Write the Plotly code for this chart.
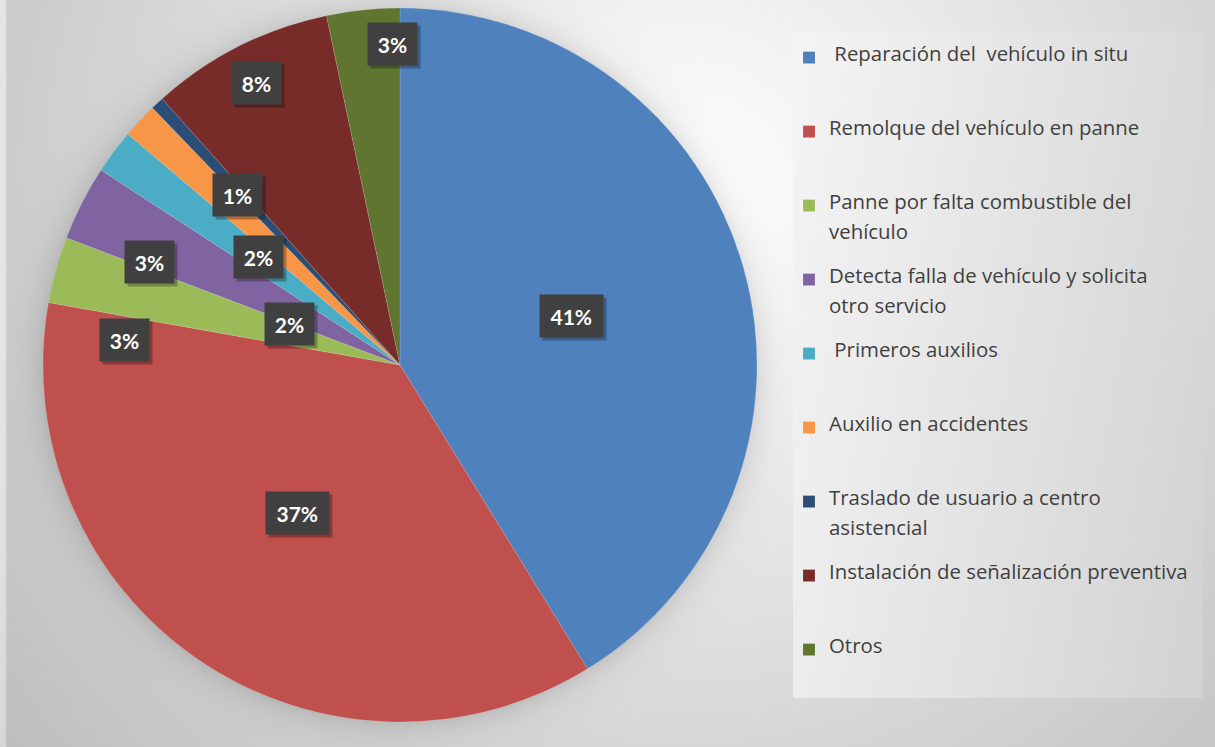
import base64
import struct
import zlib

import numpy as np
import plotly.graph_objects as go

# ---------------- data ----------------
categories = [
    "\u00a0Reparación del\u00a0 vehículo in situ",
    "Remolque del vehículo en panne",
    "Panne por falta combustible del<br>vehículo",
    "Detecta falla de vehículo y solicita<br>otro servicio",
    "\u00a0Primeros auxilios",
    "Auxilio en accidentes",
    "Traslado de usuario a centro<br>asistencial",
    "Instalación de señalización preventiva",
    "Otros",
]
values = [41.2, 36.6, 3.0, 3.4, 2.0, 1.6, 0.6, 8.3, 3.3]

# ---------------- style ----------------
colors = ["#4F81BD", "#C0504D", "#9BBB59", "#8064A2", "#4BACC6",
          "#F79646", "#2C4D75", "#772C2A", "#5F7530"]
# data-label placement (fraction of radius, angular shift in degrees)
label_r = [0.50, 0.505, 0.776, 0.76, 0.498, 0.329, 0.658, 0.886, 0.90]
label_shift = [0.0, 0.6, -10.3, -4.6, 0.7, -22.8, -0.8, -0.2, 4.6]

W, H = 1215, 747
CX, CY, R = 400.0, 365.0, 357.0  # pie centre / radius in px
LEG_TXT = "font-size:20.4px"
LEG_SLOTS = 7          # legend sub-lines per entry (text uses slots 1 and 4)
ROW_PX = 74.0          # distance between legend rows in the reference
LEG_FONT = (ROW_PX - 3) / (LEG_SLOTS * 1.3)


def png_uri(gray):
    h, w = gray.shape
    raw = b"".join(b"\x00" + gray[i].tobytes() for i in range(h))

    def chunk(t, data):
        c = struct.pack(">I", len(data)) + t + data
        return c + struct.pack(">I", zlib.crc32(t + data) & 0xFFFFFFFF)

    png = (b"\x89PNG\r\n\x1a\n"
           + chunk(b"IHDR", struct.pack(">IIBBBBB", w, h, 8, 0, 0, 0, 0))
           + chunk(b"IDAT", zlib.compress(raw, 9))
           + chunk(b"IEND", b""))
    return "data:image/png;base64," + base64.b64encode(png).decode()


# background radial gradient with soft pie shadow
bh, bw = H // 2, W // 2
yy, xx = np.mgrid[0:bh, 0:bw]
px = (xx + 0.5) * W / bw
py = (yy + 0.5) * H / bh
d = np.sqrt((px - 680) ** 2 + (py - 200) ** 2)
bg = 257 - 0.077 * d
dp = np.sqrt((px - CX) ** 2 + (py - CY) ** 2) - R
shade = np.where(dp > -4, 24 * np.exp(-np.clip(dp, 0, None) / 14.0), 0)
bg = bg - shade
bg = np.where(px < 7, bg + 26, bg)
bg = np.clip(bg, 0, 252).astype(np.uint8)

# legend box gradient
LX0, LX1, LY0, LY1 = 793, 1203, 32, 698
lh, lw = (LY1 - LY0) // 2, (LX1 - LX0) // 2
yy2, xx2 = np.mgrid[0:lh, 0:lw]
lpx = LX0 + (xx2 + 0.5) * (LX1 - LX0) / lw
lpy = LY0 + (yy2 + 0.5) * (LY1 - LY0) / lh
lg = 245 - 0.065 * (lpx - LX0) - 0.012 * (lpy - LY0)
lg = np.clip(lg, 0, 255).astype(np.uint8)

# ---------------- figure ----------------
# each legend entry is built from small sub-lines so rows are evenly spaced
# and a wrapped second line sits ~30 px under the first
legend_names = []
for c in categories:
    parts = c.split("<br>")
    slots = ["\u00a0"] * LEG_SLOTS
    slots[0] = f"<span style='{LEG_TXT}'>{parts[0]}</span>"
    if len(parts) > 1:
        slots[3] = f"<span style='{LEG_TXT}'>{parts[1]}</span>"
    legend_names.append("<br>".join(slots))

fig = go.Figure()
fig.add_trace(go.Pie(
    labels=legend_names,
    values=values,
    sort=False,
    direction="clockwise",
    rotation=0,
    marker=dict(colors=colors, line=dict(color="rgba(255,255,255,0.25)", width=0.5)),
    textinfo="none",
    hoverinfo="percent",
    domain=dict(x=[(CX - R) / W, (CX + R) / W], y=[1 - (CY + R) / H, 1 - (CY - R) / H]),
))

# data labels computed from the values
total = sum(values)
cum = 0.0
shadows, labels_ann = [], []
for i, v in enumerate(values):
    mid = (cum + v / 2) / total * 360.0
    cum += v
    ang = np.radians(mid + label_shift[i])
    lx = CX + R * label_r[i] * np.sin(ang)
    ly = CY - R * label_r[i] * np.cos(ang)
    pct = f"{round(v / total * 100)}%"
    box_w = 13.5 * len(pct) + 2
    common = dict(x=lx / W, y=1 - ly / H, xref="paper", yref="paper",
                  showarrow=False, xanchor="center", yanchor="middle",
                  borderpad=10, height=22, width=box_w)
    shadows.append(dict(text="\u00a0", xshift=3, yshift=-3,
                        font=dict(family="Lato", size=21),
                        bgcolor="rgba(0,0,0,0.28)", **common))
    labels_ann.append(dict(text=f"<b>{pct}</b>",
                           font=dict(family="Lato", size=21, color="white"),
                           bgcolor="#404040", **common))

fig.update_layout(
    width=W, height=H,
    margin=dict(l=0, r=0, t=0, b=0),
    paper_bgcolor="#d9d9d9",
    plot_bgcolor="rgba(0,0,0,0)",
    showlegend=True,
    legend=dict(
        x=789 / W, y=1 - 46 / H, xanchor="left", yanchor="top",
        bgcolor="rgba(0,0,0,0)",
        font=dict(family="Open Sans", size=LEG_FONT, color="#404040"),
        valign="top",
        itemwidth=30,
        traceorder="normal",
    ),
    images=[
        dict(source=png_uri(bg), xref="paper", yref="paper", x=0, y=1,
             sizex=1, sizey=1, sizing="stretch", xanchor="left", yanchor="top",
             layer="below"),
        dict(source=png_uri(lg), xref="paper", yref="paper", x=LX0 / W, y=1 - LY0 / H,
             sizex=(LX1 - LX0) / W, sizey=(LY1 - LY0) / H, sizing="stretch",
             xanchor="left", yanchor="top", layer="below"),
    ],
    annotations=shadows + labels_ann,
)

fig.write_html(
    "out.html",
    config={"displayModeBar": False},
    post_script="document.body.style.margin='0';document.body.style.overflow='hidden';",
)
